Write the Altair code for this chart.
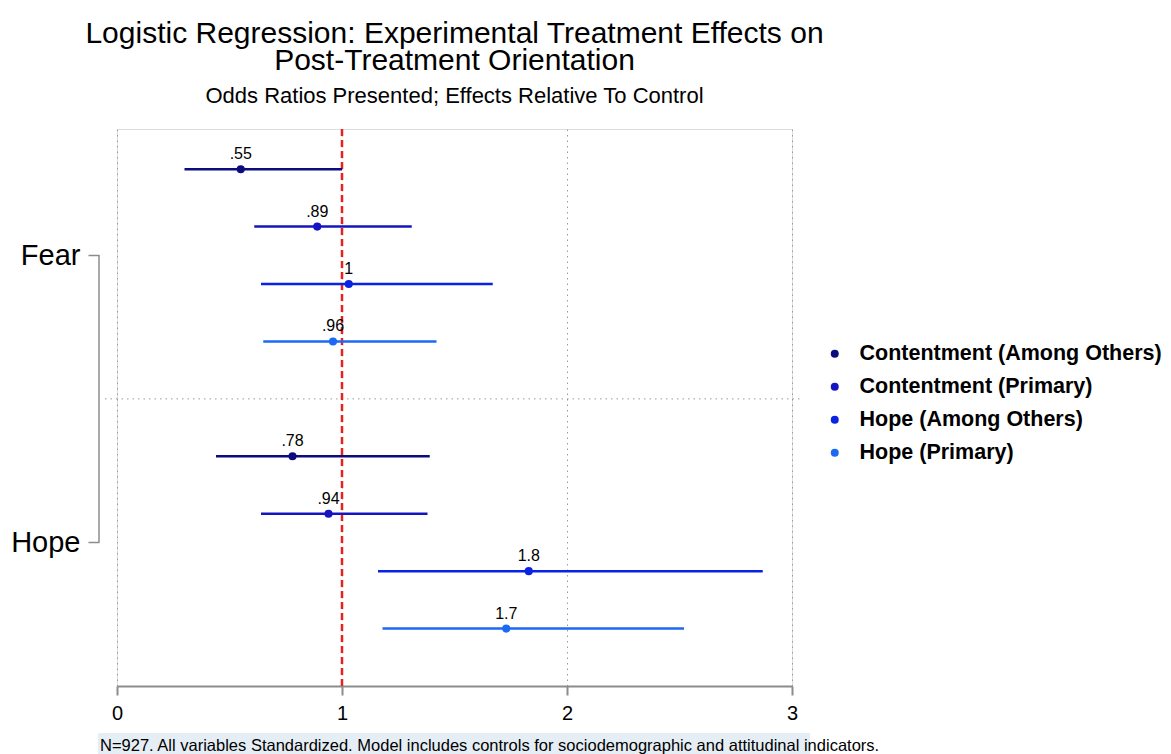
import altair as alt
import pandas as pd

# ---------------- data ----------------
groups = ["Fear", "Hope"]
series = ["Contentment (Among Others)", "Contentment (Primary)",
          "Hope (Among Others)", "Hope (Primary)"]
colors = ["#0c0c7e", "#1414c2", "#0a22e4", "#1c6af2"]

odds_fear = [0.55, 0.89, 1.03, 0.96]
lo_fear = [0.30, 0.61, 0.64, 0.65]
hi_fear = [1.00, 1.31, 1.67, 1.42]
labels_fear = [".55", ".89", "1", ".96"]

odds_hope = [0.78, 0.94, 1.83, 1.73]
lo_hope = [0.44, 0.64, 1.16, 1.18]
hi_hope = [1.39, 1.38, 2.87, 2.52]
labels_hope = [".78", ".94", "1.8", "1.7"]

x_ticks = [0, 1, 2, 3]
reference_value = 1

title_lines = ["Logistic Regression: Experimental Treatment Effects on",
               "Post-Treatment Orientation"]
subtitle = "Odds Ratios Presented; Effects Relative To Control"
footnote = ("N=927. All variables Standardized. Model includes controls for "
            "sociodemographic and attitudinal indicators.")

FONT = "Liberation Sans"

# ---------------- table ----------------
per_group = len(series) + 1
rows = []
for gi, (g, od, lo, hi, lab) in enumerate(zip(
        groups, [odds_fear, odds_hope], [lo_fear, lo_hope],
        [hi_fear, hi_hope], [labels_fear, labels_hope])):
    for si, s in enumerate(series):
        rows.append(dict(group=g, series=s, odds=od[si], lo=lo[si], hi=hi[si],
                         label=lab[si], row=gi * per_group + si + 1))
df = pd.DataFrame(rows)

group_pos = [gi * per_group + (len(series) + 1) / 2 for gi in range(len(groups))]
sep_df = pd.DataFrame({"row": [per_group]})
bracket_df = pd.DataFrame({"y1": [group_pos[0]], "y2": [group_pos[-1]]})

label_expr = " : ".join(
    [f"datum.value == {p} ? '{g}'" for p, g in zip(group_pos, groups)]) + " : ''"

W, H = 675, 557
PAD_L, PAD_T = 117, 129

yscale = alt.Scale(domain=[0.3, 10], reverse=True, nice=False, zero=False)
xscale = alt.Scale(domain=[0, 3], nice=False, zero=False)
color_scale = alt.Scale(domain=series, range=colors)

base = alt.Chart(df)

x_axis = alt.Axis(values=x_ticks, format="d", title=None, labelFontSize=20,
                  labelFont=FONT, labelColor="black", labelPadding=8,
                  labelFlush=False,
                  domainColor="#8c8c8c", domainWidth=2, tickColor="#8c8c8c",
                  tickWidth=2, tickSize=9, grid=True, gridDash=[1.5, 4],
                  gridColor="#9a9a9a", gridWidth=1)
y_axis = alt.Axis(values=group_pos, labelExpr=label_expr, title=None,
                  labelFontSize=29, labelFont=FONT, labelColor="black",
                  labelPadding=8, domain=False, grid=False, offset=18,
                  tickColor="#8c8c8c", tickWidth=1.5, tickSize=11)

errbars = base.mark_rule(strokeWidth=2.5).encode(
    x=alt.X("lo:Q", scale=xscale, axis=x_axis),
    x2="hi:Q",
    y=alt.Y("row:Q", scale=yscale, axis=y_axis),
    color=alt.Color("series:N", scale=color_scale, legend=None),
)

points = base.mark_circle(size=66, opacity=1).encode(
    x="odds:Q",
    y="row:Q",
    color=alt.Color("series:N", scale=color_scale, sort=series,
                    legend=alt.Legend(orient="none", legendX=707, legendY=214,
                                      title=None, labelFontSize=21.5,
                                      labelFont=FONT, labelFontWeight="bold",
                                      labelColor="black", symbolType="circle",
                                      symbolSize=64, symbolStrokeWidth=0,
                                      symbolOpacity=1,
                                      labelOffset=14, rowPadding=10,
                                      padding=0, labelLimit=400)),
)

texts = base.mark_text(fontSize=16, font=FONT, color="black",
                       baseline="alphabetic", dy=-10).encode(
    x="odds:Q", y="row:Q", text="label:N")

ref_line = alt.Chart(pd.DataFrame({"v": [reference_value]})).mark_rule(
    color="#e8201e", strokeWidth=2.5, strokeDash=[7, 4]).encode(x="v:Q")

separator = alt.Chart(sep_df).mark_rule(
    color="#9a9a9a", strokeWidth=1, strokeDash=[1.5, 4]).encode(
    y="row:Q", x=alt.value(-12), x2=alt.value(W + 8))

bracket = alt.Chart(bracket_df).mark_rule(
    color="#8c8c8c", strokeWidth=1.5).encode(
    y="y1:Q", y2="y2:Q", x=alt.value(-18))

foot_bg = alt.Chart(pd.DataFrame({"a": [0]})).mark_rect(color="#e6eef5").encode(
    x=alt.value(-19), x2=alt.value(693), y=alt.value(733 - PAD_T),
    y2=alt.value(754 - PAD_T))

foot = alt.Chart(pd.DataFrame({"t": [footnote]})).mark_text(
    fontSize=16.5, font=FONT, color="black", align="left",
    baseline="middle").encode(text="t:N", x=alt.value(-17),
                              y=alt.value(746 - PAD_T))

chart = alt.layer(
    foot_bg, separator, bracket, ref_line, errbars, points, texts, foot
).resolve_legend(color="independent").properties(
    width=W, height=H,
    title=alt.TitleParams(text=title_lines, subtitle=subtitle, fontSize=30,
                          font=FONT, fontWeight="normal", lineHeight=27,
                          color="black", subtitleFont=FONT,
                          subtitleFontSize=22, subtitleColor="black",
                          subtitlePadding=10, anchor="middle", frame="group",
                          offset=21),
    autosize=alt.AutoSizeParams(type="none"),
    padding={"left": PAD_L, "top": PAD_T, "right": 1171 - PAD_L - W,
             "bottom": 754 - PAD_T - H},
).configure_view(strokeWidth=0).configure(background="white")

chart.save("out.html", embed_options={"renderer": "svg", "actions": False})
